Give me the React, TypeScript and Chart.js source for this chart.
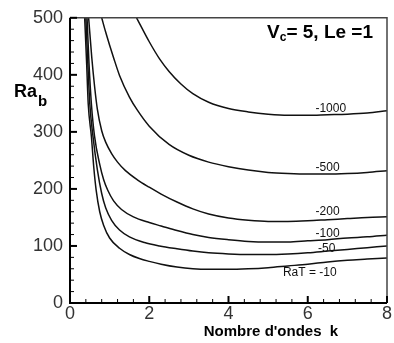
import React, { useEffect, useRef } from "react";
import { Chart, registerables } from "chart.js";

Chart.register(...registerables);

// Wave number k and critical Rayleigh numbers Ra_b for each RaT value
const kTen = [0.37, 0.42, 0.46, 0.54, 0.6, 0.66, 0.75, 0.85, 1.0, 1.25, 1.5, 1.75, 2.0, 2.3, 2.7, 3.1, 3.5, 4, 4.5, 5, 5.5, 6, 6.5, 7, 7.5, 8];
const raTen = [500, 420, 349, 292, 238, 198, 160, 136, 114, 96, 85, 78, 73, 68, 63, 60, 59, 59, 60, 62, 65, 68, 72, 75, 77, 79];

const kFifty = [0.4, 0.45, 0.5, 0.58, 0.69, 0.8, 0.9, 1.05, 1.25, 1.5, 1.88, 2.26, 2.7, 3.1, 3.5, 4, 4.5, 5, 5.5, 6, 6.5, 7, 7.5, 8];
const raFifty = [500, 420, 349, 292, 234, 192, 167, 145, 128, 116, 106, 100, 95, 91, 88, 86, 85, 85, 86, 88, 91, 94, 97, 100];

const kHundred = [0.43, 0.48, 0.54, 0.62, 0.75, 0.85, 0.95, 1.1, 1.3, 1.6, 2.0, 2.3, 2.7, 3.1, 3.5, 4, 4.5, 5, 5.5, 6, 6.5, 7, 7.5, 8];
const raHundred = [500, 420, 349, 292, 243, 216, 198, 179, 164, 151, 141, 135, 127, 120, 115, 111, 108, 107, 107, 109, 111, 114, 116, 119];

const kTwoHundred = [0.47, 0.55, 0.62, 0.69, 0.8, 0.9, 1.05, 1.2, 1.4, 1.7, 2.0, 2.3, 2.7, 3.1, 3.5, 4, 4.5, 5, 5.5, 6, 6.5, 7, 7.5, 8];
const raTwoHundred = [500, 430, 380, 340, 302, 282, 262, 247, 232, 216, 203, 191, 177, 165, 156, 149, 145, 143, 143, 144, 146, 148, 150, 151];

const kFiveHundred = [0.8, 0.9, 1.0, 1.1, 1.25, 1.5, 1.7, 2.0, 2.5, 3.0, 3.5, 4, 4.5, 5, 5.5, 6, 6.5, 7, 7.5, 8];
const raFiveHundred = [500, 475, 452, 430, 399, 361, 338, 310, 278, 259, 247, 239, 233, 229, 227, 226, 226, 227, 229, 232];

const kThousand = [1.68, 2.0, 2.26, 2.5, 2.8, 3.1, 3.5, 4, 4.5, 5, 5.5, 6, 6.5, 7, 7.5, 8];
const raThousand = [500, 458, 428, 406, 384, 367, 352, 341, 335, 331, 329, 329, 330, 331, 333, 337];

// Curve labels and their anchor positions (k, Ra_b)
const curveLabels = ["-1000", "-500", "-200", "-100", "-50", "RaT = -10"];
const labelK = [6.58, 6.5, 6.5, 6.5, 6.48, 6.05];
const labelRa = [340, 237, 160, 122, 96, 53];

const xTicks = [0, 2, 4, 6, 8];
const yTicks = [0, 100, 200, 300, 400, 500];

const FONT = "'Liberation Sans', Arial, sans-serif";

function pts(xs: number[], ys: number[]) {
  return xs.map((x, i) => ({ x, y: ys[i] }));
}

const decorPlugin = {
  id: "decor",
  afterDraw(chart: any) {
    const { ctx, chartArea } = chart;
    const xs = chart.scales.x;
    const ys = chart.scales.y;
    const { left, right, top, bottom } = chartArea;
    ctx.save();

    // frame: top and right thinner grey
    ctx.strokeStyle = "#444";
    ctx.lineWidth = 1.5;
    ctx.beginPath();
    ctx.moveTo(left, top);
    ctx.lineTo(right, top);
    ctx.lineTo(right, bottom);
    ctx.stroke();
    // axes left & bottom
    ctx.strokeStyle = "#000";
    ctx.lineWidth = 2;
    ctx.beginPath();
    ctx.moveTo(left, top);
    ctx.lineTo(left, bottom);
    ctx.lineTo(right, bottom);
    ctx.stroke();

    // y ticks (inside)
    for (let v = 0; v <= 500; v += 20) {
      const y = ys.getPixelForValue(v);
      const major = v % 100 === 0;
      ctx.lineWidth = major ? 2 : 1;
      ctx.beginPath();
      ctx.moveTo(left, y);
      ctx.lineTo(left + (major ? 7 : 4), y);
      ctx.stroke();
    }
    // x ticks (inside)
    for (let i = 0; i <= 20; i++) {
      const k = i * 0.4;
      const x = xs.getPixelForValue(k);
      const major = i % 5 === 0;
      ctx.lineWidth = major ? 2 : 1;
      ctx.beginPath();
      ctx.moveTo(x, bottom);
      ctx.lineTo(x, bottom - (major ? 7 : 4));
      ctx.stroke();
    }

    // curve labels
    ctx.fillStyle = "#111";
    ctx.font = `12px ${FONT}`;
    ctx.textAlign = "center";
    ctx.textBaseline = "middle";
    curveLabels.forEach((t, i) => {
      ctx.fillText(t, xs.getPixelForValue(labelK[i]), ys.getPixelForValue(labelRa[i]));
    });

    // title Vc= 5, Le =1
    ctx.fillStyle = "#000";
    ctx.textAlign = "left";
    ctx.textBaseline = "alphabetic";
    const bigF = `bold 19px ${FONT}`;
    const subF = `bold 12px ${FONT}`;
    ctx.font = bigF;
    const wV = ctx.measureText("V").width;
    const rest = "= 5, Le =1";
    const wRest = ctx.measureText(rest).width;
    ctx.font = subF;
    const wC = ctx.measureText("c").width;
    const tRight = right - 14;
    let tx = tRight - (wV + wC + wRest);
    const tBase = top + 20;
    ctx.font = bigF;
    ctx.fillText("V", tx, tBase);
    tx += wV;
    ctx.font = subF;
    ctx.fillText("c", tx, tBase + 3);
    tx += wC;
    ctx.font = bigF;
    ctx.fillText(rest, tx, tBase);

    // y title Ra_b
    ctx.font = `bold 18px ${FONT}`;
    const yTx = 14;
    const yTb = top + 79;
    ctx.fillText("Ra", yTx, yTb);
    const wRa = ctx.measureText("Ra").width;
    ctx.font = `bold 15px ${FONT}`;
    ctx.fillText("b", yTx + wRa + 1, yTb + 9);

    // x title
    ctx.font = `bold 15px ${FONT}`;
    ctx.textAlign = "center";
    ctx.fillText("Nombre d'ondes  k", left + 201, bottom + 33);

    ctx.restore();
  },
};

export default function App() {
  const ref = useRef<HTMLCanvasElement>(null);
  useEffect(() => {
    if (!ref.current) return;
    const series = [
      pts(kTen, raTen),
      pts(kFifty, raFifty),
      pts(kHundred, raHundred),
      pts(kTwoHundred, raTwoHundred),
      pts(kFiveHundred, raFiveHundred),
      pts(kThousand, raThousand),
    ];
    const chart = new Chart(ref.current, {
      type: "line",
      data: {
        datasets: series.map((d) => ({
          data: d,
          borderColor: "#111",
          borderWidth: 1.5,
          pointRadius: 0,
          cubicInterpolationMode: "monotone" as const,
          fill: false,
        })),
      },
      options: {
        responsive: false,
        animation: false,
        devicePixelRatio: 1,
        layout: { padding: { top: 12, right: 7, left: 0, bottom: 0 } },
        plugins: { legend: { display: false }, tooltip: { enabled: false } },
        scales: {
          x: {
            type: "linear",
            min: 0,
            max: 8,
            afterBuildTicks: (s: any) => {
              s.ticks = xTicks.map((v) => ({ value: v }));
            },
            ticks: {
              font: { family: FONT, size: 18 },
              color: "#333",
              padding: 0,
              maxRotation: 0,
            },
            grid: { display: false, drawTicks: false },
            border: { display: false },
            afterFit: (s: any) => {
              s.height = 40;
            },
          },
          y: {
            type: "linear",
            min: 0,
            max: 500,
            afterBuildTicks: (s: any) => {
              s.ticks = yTicks.map((v) => ({ value: v }));
            },
            ticks: {
              font: { family: FONT, size: 18 },
              color: "#333",
              padding: 7,
            },
            grid: { display: false, drawTicks: false },
            border: { display: false },
            afterFit: (s: any) => {
              s.width = 70;
            },
          },
        },
      },
      plugins: [decorPlugin],
    });
    return () => chart.destroy();
  }, []);
  return (
    <div style={{ position: "fixed", left: 0, top: 0, width: 394, height: 343, background: "#fff" }}>
      <canvas ref={ref} width={394} height={343} />
    </div>
  );
}
